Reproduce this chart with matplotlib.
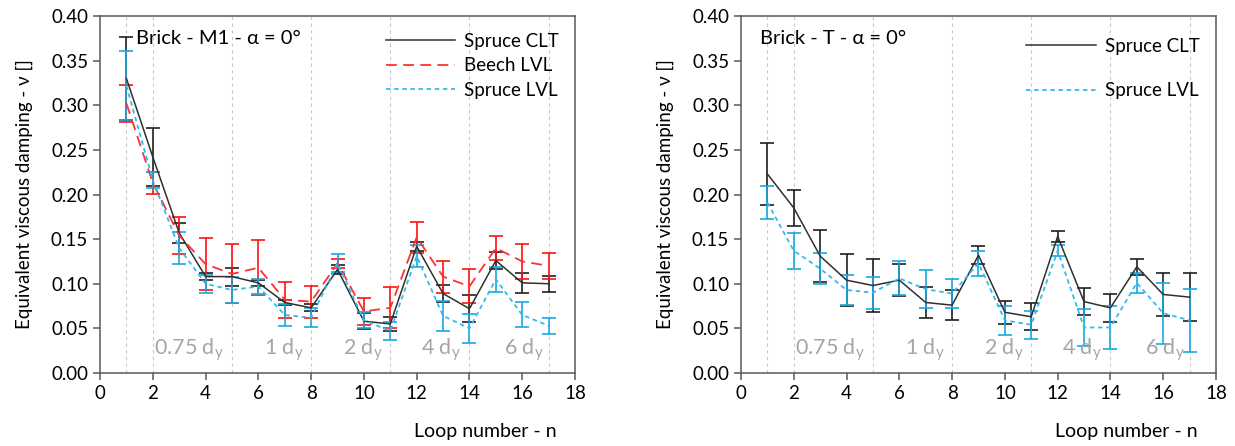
import numpy as np
import matplotlib
matplotlib.use("Agg")
import matplotlib.pyplot as plt

plt.rcParams["font.family"] = ["Lato", "DejaVu Sans"]
plt.rcParams["font.size"] = 13

# loop number
loops = np.arange(1, 18)

# Brick - M1 - alpha = 0
m1_spruce_clt = [0.330, 0.242, 0.157, 0.108, 0.108, 0.101, 0.079, 0.073, 0.116,
                 0.058, 0.055, 0.142, 0.089, 0.072, 0.126, 0.101, 0.100]
m1_spruce_clt_err = [0.047, 0.032, 0.011, 0.004, 0.010, 0.003, 0.003, 0.004, 0.005,
                     0.009, 0.008, 0.005, 0.010, 0.015, 0.010, 0.011, 0.009]
m1_beech_lvl = [0.302, 0.213, 0.154, 0.122, 0.111, 0.118, 0.082, 0.080, 0.123,
                0.069, 0.073, 0.152, 0.108, 0.097, 0.140, 0.125, 0.120]
m1_beech_lvl_err = [0.021, 0.012, 0.021, 0.029, 0.033, 0.031, 0.020, 0.018, 0.005,
                    0.015, 0.023, 0.017, 0.018, 0.019, 0.013, 0.020, 0.015]
m1_spruce_lvl = [0.322, 0.216, 0.140, 0.100, 0.093, 0.097, 0.065, 0.062, 0.123,
                 0.059, 0.047, 0.131, 0.064, 0.050, 0.105, 0.065, 0.053]
m1_spruce_lvl_err = [0.039, 0.009, 0.018, 0.010, 0.015, 0.008, 0.012, 0.011, 0.010,
                     0.009, 0.010, 0.012, 0.017, 0.016, 0.014, 0.014, 0.009]

# Brick - T - alpha = 0
t_spruce_clt = [0.223, 0.185, 0.131, 0.104, 0.098, 0.104, 0.079, 0.076, 0.132,
                0.068, 0.063, 0.153, 0.080, 0.073, 0.119, 0.088, 0.085]
t_spruce_clt_err = [0.035, 0.020, 0.029, 0.029, 0.030, 0.018, 0.017, 0.017, 0.010,
                    0.013, 0.015, 0.006, 0.015, 0.016, 0.009, 0.024, 0.027]
t_spruce_lvl = [0.191, 0.137, 0.117, 0.093, 0.090, 0.106, 0.094, 0.089, 0.123,
                0.059, 0.054, 0.137, 0.051, 0.051, 0.101, 0.067, 0.059]
t_spruce_lvl_err = [0.018, 0.020, 0.017, 0.017, 0.018, 0.019, 0.021, 0.016, 0.014,
                    0.016, 0.016, 0.006, 0.021, 0.024, 0.011, 0.034, 0.035]

# displacement steps
step_bounds = [1, 2, 5, 8, 11, 14, 17]
step_labels = ["0.75 d$_\\mathregular{y}$", "1 d$_\\mathregular{y}$", "2 d$_\\mathregular{y}$",
               "4 d$_\\mathregular{y}$", "6 d$_\\mathregular{y}$"]
step_label_x = [2.05, 6.2, 9.2, 12.15, 15.3]

styles = {
  "Spruce CLT": dict(color="#303030", ls="-", lw=1.1, ecolor="#202020"),
  "Beech LVL": dict(color="#ff3030", ls=(0, (6, 3.5)), lw=1.3, ecolor="#ff1010"),
  "Spruce LVL": dict(color="#33bbee", ls=(0, (2.5, 2)), lw=1.3, ecolor="#1aa8e0"),
}

spine_col = "#595959"


def panel(ax, series, title, title_x, labelspacing, legend_top):
  for x in step_bounds:
    ax.axvline(x, color="#c8c8c8", lw=0.8, ls=(0, (3, 3)), zorder=0)
  for name, (vals, err) in series.items():
    st = styles[name]
    ax.errorbar(loops, vals, yerr=err, color=st["color"], ls=st["ls"], lw=st["lw"],
                ecolor=st["ecolor"], elinewidth=1.2, capsize=4.7, capthick=1.2,
                label=name)
  for lab, x in zip(step_labels, step_label_x):
    ax.text(x, 0.026, lab, color="#a6a6a6", fontsize=15.5, va="center", ha="left")
  ax.text(title_x, 0.375, title, fontsize=14.5, va="center")
  ax.set_xlim(0, 18)
  ax.set_ylim(0, 0.40)
  ax.set_xticks(np.arange(0, 19, 2))
  ax.set_yticks(np.arange(0, 0.401, 0.05))
  ax.set_yticklabels([f"{v:.2f}" for v in np.arange(0, 0.401, 0.05)])
  ax.tick_params(direction="out", length=5, width=1.1, color=spine_col, labelsize=13.5)
  for s in ax.spines.values():
    s.set_color(spine_col)
    s.set_linewidth(1.1)
  ax.set_ylabel("Equivalent viscous damping - ν []", fontsize=13.5, labelpad=13)
  ax.text(0.962, -0.165, "Loop number - n", transform=ax.transAxes, ha="right",
          va="center", fontsize=14)
  handles, labels = ax.get_legend_handles_labels()
  handles = [h[0] for h in handles]
  ax.legend(handles, labels, loc="upper right", bbox_to_anchor=(0.99, legend_top),
            frameon=False, handlelength=3.7, handletextpad=0.5,
            labelspacing=labelspacing, fontsize=13.5, borderaxespad=0.2)


fig = plt.figure(figsize=(12.35, 4.46), dpi=100)
ax1 = fig.add_axes([0.0810, 0.1637, 0.3846, 0.8004])
ax2 = fig.add_axes([0.6000, 0.1637, 0.3846, 0.8004])

panel(ax1, {"Spruce CLT": (m1_spruce_clt, m1_spruce_clt_err),
            "Beech LVL": (m1_beech_lvl, m1_beech_lvl_err),
            "Spruce LVL": (m1_spruce_lvl, m1_spruce_lvl_err)},
      "Brick - M1 - α = 0°", 1.38, 0.4, 0.985)
panel(ax2, {"Spruce CLT": (t_spruce_clt, t_spruce_clt_err),
            "Spruce LVL": (t_spruce_lvl, t_spruce_lvl_err)},
      "Brick - T - α = 0°", 0.72, 1.45, 0.97)

fig.savefig("out.png", dpi=100)
